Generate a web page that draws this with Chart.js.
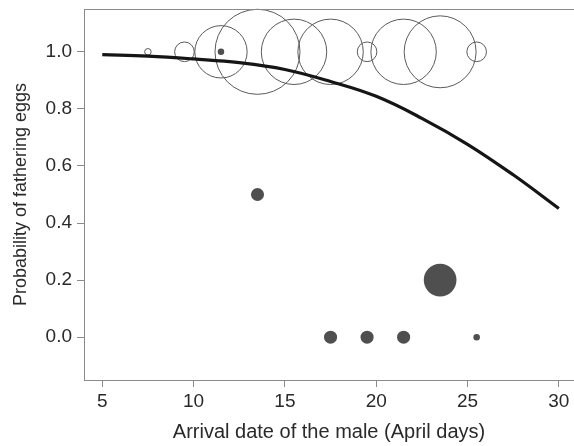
<!DOCTYPE html>
<html>
<head>
<meta charset="utf-8">
<script src="https://cdn.jsdelivr.net/npm/chart.js@4"></script>
<style>
  html, body { margin: 0; padding: 0; background: #fff; }
  #wrap { width: 574px; height: 446px; }
</style>
</head>
<body>
<div id="wrap"><canvas id="fatherChart"></canvas></div>
<script>
// males that fathered all eggs (open circles, prob = 1)
const openDays = [7.5, 9.5, 11.5, 13.5, 15.5, 17.5, 19.5, 21.5, 23.5, 25.5];
const openCounts = [1, 3, 8, 13, 10, 10, 3, 10, 11, 3];

// males with lost paternity (filled circles)
const filledDays = [11.5, 13.5, 17.5, 19.5, 21.5, 23.5, 25.5];
const filledProb = [1.0, 0.5, 0.0, 0.0, 0.0, 0.2, 0.0];
const filledCounts = [1, 2, 2, 2, 2, 5, 1];

// fitted curve
const curveDays = [5, 7.5, 10, 12.5, 15, 17.5, 20, 22.5, 25, 27.5, 30];
const curveProb = [0.99, 0.985, 0.975, 0.962, 0.938, 0.896, 0.844, 0.767, 0.676, 0.569, 0.451];

const xTicks = [5, 10, 15, 20, 25, 30];
const yTicks = [0, 0.2, 0.4, 0.6, 0.8, 1.0];

const rPerCount = 3.27;
const axisGray = '#8a8a8a';
const textCol = '#2a2a2a';
const fam = '"Liberation Sans", Arial, sans-serif';

const topLine = {
    id: 'topLine',
    afterDraw(chart) {
        const a = chart.chartArea;
        const c = chart.ctx;
        c.save();
        c.strokeStyle = axisGray;
        c.lineWidth = 1;
        c.beginPath();
        c.moveTo(a.left, a.top + 0.5);
        c.lineTo(a.right, a.top + 0.5);
        c.stroke();
        c.restore();
    }
};

function noPad(s) {
    s.paddingTop = 0;
    s.paddingBottom = 0;
    s.paddingLeft = 0;
    s.paddingRight = 0;
}

new Chart(document.getElementById('fatherChart'), {
    type: 'bubble',
    data: {
        datasets: [
            {
                type: 'line',
                data: curveDays.map((d, i) => ({ x: d, y: curveProb[i] })),
                borderColor: '#151515',
                borderWidth: 3.2,
                pointRadius: 0,
                fill: false,
                tension: 0.4,
                order: 0
            },
            {
                data: filledDays.map((d, i) => ({ x: d, y: filledProb[i], r: filledCounts[i] * rPerCount })),
                backgroundColor: '#4f4f4f',
                borderColor: '#4f4f4f',
                borderWidth: 0,
                clip: false,
                order: 1
            },
            {
                data: openDays.map((d, i) => ({ x: d, y: 1.0, r: openCounts[i] * rPerCount })),
                backgroundColor: 'rgba(255,255,255,0)',
                borderColor: '#5a5a5a',
                borderWidth: 1,
                clip: false,
                order: 2
            }
        ]
    },
    options: {
        responsive: true,
        maintainAspectRatio: false,
        animation: false,
        layout: { autoPadding: false, padding: { top: 9, right: 0, left: 0, bottom: 0 } },
        plugins: {
            legend: { display: false },
            tooltip: { enabled: false }
        },
        scales: {
            x: {
                type: 'linear',
                min: 4,
                max: 30.83,
                afterBuildTicks: s => { s.ticks = xTicks.map(v => ({ value: v })); },
                afterFit: s => { s.height = 66; noPad(s); },
                grid: { drawOnChartArea: false, drawTicks: true, tickLength: 7, tickColor: axisGray },
                border: { color: axisGray, width: 1 },
                ticks: {
                    color: textCol,
                    padding: 3,
                    maxRotation: 0,
                    font: { family: fam, size: 19 }
                },
                title: {
                    display: true,
                    text: 'Arrival date of the male (April days)',
                    color: textCol,
                    padding: { top: 4, bottom: 2 },
                    font: { family: fam, size: 20 }
                }
            },
            y: {
                type: 'linear',
                min: -0.15,
                max: 1.15,
                afterBuildTicks: s => { s.ticks = yTicks.map(v => ({ value: v })); },
                afterFit: s => { s.width = 84; noPad(s); },
                grid: { drawOnChartArea: false, drawTicks: true, tickLength: 7, tickColor: axisGray },
                border: { color: axisGray, width: 1 },
                ticks: {
                    color: textCol,
                    padding: 5,
                    callback: v => v.toFixed(1),
                    font: { family: fam, size: 19 }
                },
                title: {
                    display: true,
                    text: 'Probability of fathering eggs',
                    color: textCol,
                    padding: { top: 10, bottom: 0 },
                    font: { family: fam, size: 18 }
                }
            }
        }
    },
    plugins: [topLine]
});
</script>
</body>
</html>
